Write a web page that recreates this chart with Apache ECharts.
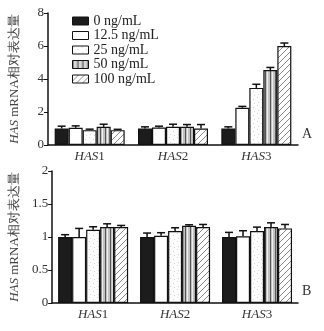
<!DOCTYPE html>
<html>
<head>
<meta charset="utf-8">
<script src="https://cdn.jsdelivr.net/npm/echarts@6/dist/echarts.min.js"></script>
<style>
html, body { margin: 0; padding: 0; background: #fff; }
#container { width: 324px; height: 331px; }
</style>
</head>
<body>
<div id="container"></div>
<script>
// Dados
var genes = ['HAS1', 'HAS2', 'HAS3'];
var doses = ['0 ng/mL', '12.5 ng/mL', '25 ng/mL', '50 ng/mL', '100 ng/mL'];
var ticksA = [0, 2, 4, 6, 8];
var ticksB = [0, 0.5, 1, 1.5, 2];

// Painel A: médias (uma linha por dose, colunas = HAS1, HAS2, HAS3)
var meanA = [
    [1.0, 1.0, 1.0],
    [1.04, 1.06, 2.26],
    [0.9, 1.1, 3.46],
    [1.1, 1.1, 4.54],
    [0.9, 1.0, 6.0]
];
var errA = [
    [0.14, 0.1, 0.1],
    [0.12, 0.08, 0.08],
    [0.06, 0.16, 0.22],
    [0.16, 0.14, 0.16],
    [0.05, 0.24, 0.18]
];
// Painel B
var meanB = [
    [1.0, 1.0, 1.0],
    [1.0, 1.02, 1.01],
    [1.11, 1.09, 1.09],
    [1.15, 1.17, 1.15],
    [1.15, 1.15, 1.13]
];
var errB = [
    [0.035, 0.06, 0.07],
    [0.13, 0.045, 0.085],
    [0.045, 0.05, 0.06],
    [0.05, 0.015, 0.065],
    [0.025, 0.04, 0.06]
];

// Padrões de preenchimento
function makePattern(kind) {
    var c = document.createElement('canvas');
    c.width = 6; c.height = 6;
    var ctx = c.getContext('2d');
    if (kind === 0) {
        ctx.fillStyle = '#1c1c1c'; ctx.fillRect(0, 0, 6, 6);
    } else if (kind === 1) {
        ctx.fillStyle = '#ffffff'; ctx.fillRect(0, 0, 6, 6);
    } else if (kind === 2) {
        c.width = 8; c.height = 8;
        ctx.fillStyle = '#fdfdfd'; ctx.fillRect(0, 0, 8, 8);
        ctx.fillStyle = '#d6d6d6';
        ctx.fillRect(1, 1, 1, 1); ctx.fillRect(5, 3, 1, 1);
        ctx.fillRect(2, 6, 1, 1); ctx.fillRect(6, 7, 1, 1);
    } else if (kind === 3) {
        c.width = 5;
        ctx.fillStyle = '#c2c2c2'; ctx.fillRect(0, 0, 5, 6);
        ctx.fillStyle = '#555555'; ctx.fillRect(0, 0, 1, 6);
        ctx.fillStyle = '#eeeeee'; ctx.fillRect(2, 0, 1, 6);
    } else {
        ctx.fillStyle = '#ffffff'; ctx.fillRect(0, 0, 6, 6);
        ctx.strokeStyle = '#8a8a8a'; ctx.lineWidth = 1;
        ctx.beginPath();
        ctx.moveTo(0, 6); ctx.lineTo(6, 0);
        ctx.moveTo(-3, 3); ctx.lineTo(3, -3);
        ctx.moveTo(3, 9); ctx.lineTo(9, 3);
        ctx.stroke();
    }
    return { image: c, repeat: 'repeat' };
}

var serif = '"Liberation Serif", "DejaVu Serif", serif';
var barW = 14;

function errorRender(k) {
    return function (params, api) {
        var x = api.value(0);
        var y = api.value(1);
        var e = api.value(2);
        var p0 = api.coord([x, y]);
        var p1 = api.coord([x, y + e]);
        var cx = p0[0] + (k - 2) * barW;
        var style = { stroke: '#111', lineWidth: 1.5 };
        return {
            type: 'group',
            children: [
                { type: 'line', shape: { x1: cx, y1: p0[1], x2: cx, y2: p1[1] }, style: style },
                { type: 'line', shape: { x1: cx - 4, y1: p1[1], x2: cx + 4, y2: p1[1] }, style: style }
            ]
        };
    };
}

var series = [];
function addPanel(means, errs, idx) {
    for (var k = 0; k < doses.length; k++) {
        series.push({
            name: doses[k],
            type: 'bar',
            xAxisIndex: idx,
            yAxisIndex: idx,
            barWidth: barW,
            barGap: 0,
            data: means[k],
            itemStyle: { color: makePattern(k), borderColor: '#111', borderWidth: 1.2 }
        });
        series.push({
            type: 'custom',
            xAxisIndex: idx,
            yAxisIndex: idx,
            renderItem: errorRender(k),
            data: means[k].map(function (v, i) { return [i, v, errs[k][i]]; }),
            z: 3
        });
    }
}
addPanel(meanA, errA, 0);
addPanel(meanB, errB, 1);

function xAxisOf(idx) {
    return {
        type: 'category',
        gridIndex: idx,
        data: genes,
        axisTick: { show: false },
        axisLine: { lineStyle: { color: '#111', width: 1.5 } },
        axisLabel: {
            margin: 5,
            color: '#333',
            fontFamily: serif,
            fontSize: 13,
            formatter: function (v) { return '{i|HAS}' + v.slice(3); },
            rich: { i: { fontStyle: 'italic', fontFamily: serif, fontSize: 13, color: '#333' } }
        }
    };
}
function yAxisOf(idx, ticks, gap) {
    return {
        type: 'value',
        gridIndex: idx,
        min: ticks[0],
        max: ticks[ticks.length - 1],
        interval: ticks[1] - ticks[0],
        splitLine: { show: false },
        axisLine: { show: true, lineStyle: { color: '#111', width: 1.5 } },
        axisTick: { show: true, length: 4, lineStyle: { color: '#111' } },
        axisLabel: { margin: 4, color: '#333', fontFamily: serif, fontSize: 13 },
        name: '{i|HAS} mRNA相对表达量',
        nameLocation: 'middle',
        nameRotate: 90,
        nameGap: gap,
        nameTextStyle: {
            color: '#444',
            fontSize: 13,
            fontFamily: serif,
            rich: { i: { fontStyle: 'italic', fontFamily: serif, fontSize: 13, color: '#444' } }
        }
    };
}

var dom = document.getElementById('container');
var myChart = echarts.init(dom, null, { renderer: 'canvas' });

var option = {
    animation: false,
    grid: [
        { left: 42, right: 26, top: 13, bottom: 186 },
        { left: 39, right: 26, top: 171, bottom: 28 }
    ],
    legend: {
        data: doses,
        orient: 'vertical',
        left: 67,
        top: 9,
        icon: 'rect',
        itemWidth: 16,
        itemHeight: 8,
        itemGap: 0.5,
        itemStyle: { borderColor: '#111', borderWidth: 1 },
        textStyle: { fontFamily: serif, fontSize: 14, lineHeight: 14, color: '#222' }
    },
    xAxis: [xAxisOf(0), xAxisOf(1)],
    yAxis: [yAxisOf(0, ticksA, 27), yAxisOf(1, ticksB, 29)],
    graphic: [
        { type: 'text', left: 302, top: 127, style: { text: 'A', font: '14px ' + serif, fill: '#333' } },
        { type: 'text', left: 302, top: 284, style: { text: 'B', font: '14px ' + serif, fill: '#333' } }
    ],
    series: series
};

myChart.setOption(option);

window.addEventListener('resize', function () {
    myChart.resize();
});
</script>
</body>
</html>
